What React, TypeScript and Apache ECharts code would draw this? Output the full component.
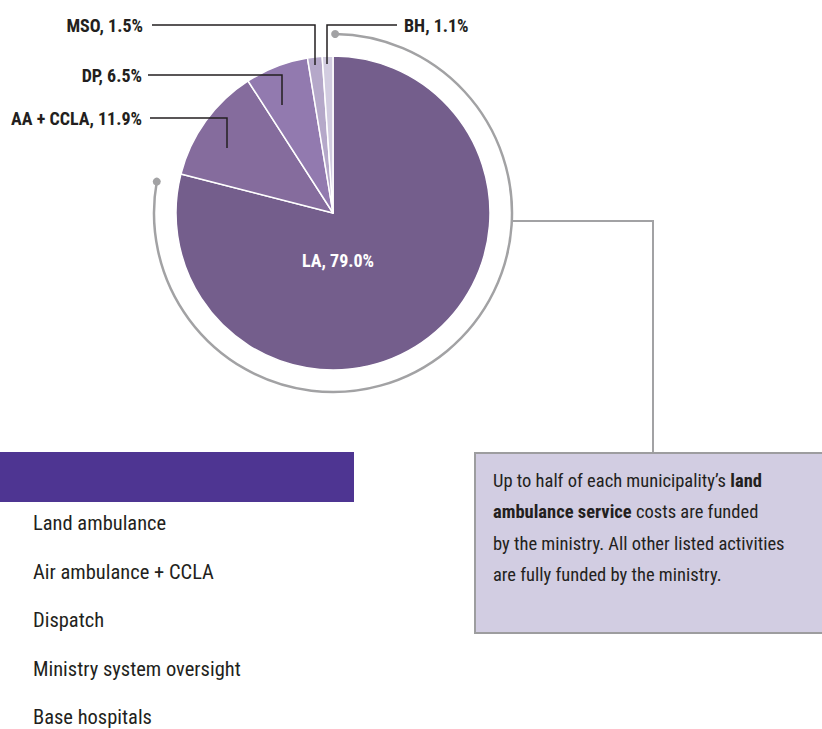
import React, { useEffect, useRef } from "react";
import * as echarts from "echarts";

const categories = ["Land ambulance", "Air ambulance + CCLA", "Dispatch", "Ministry system oversight", "Base hospitals"];
const abbreviations = ["LA", "AA + CCLA", "DP", "MSO", "BH"];
const shares = [79.0, 11.9, 6.5, 1.5, 1.1];
const sliceColors = ["#745e8c", "#856c9d", "#927aaf", "#b5a8c9", "#d2cce0"];
const noteLines = [
  "Up to half of each municipality’s {b|land}",
  "{b|ambulance service} costs are funded",
  "by the ministry. All other listed activities",
  "are fully funded by the ministry.",
];

const FONT = "'Roboto Condensed', 'DejaVu Sans Condensed', sans-serif";

export default function App() {
  const ref = useRef<HTMLDivElement>(null);
  useEffect(() => {
    if (!ref.current) return;
    const chart = echarts.init(ref.current, null, { renderer: "svg" });
    const cx = 333, cy = 213, R = 157, arcR = 179;
    const total = shares.reduce((a, b) => a + b, 0);
    const laEnd = -Math.PI / 2 + (2 * Math.PI * shares[0]) / total;
    const arcStart = -Math.PI / 2 + 0.012;
    const arcEnd = laEnd - 0.075;
    const connAngle = 0.045;
    const connX = cx + arcR * Math.cos(connAngle);
    const connY = cy + arcR * Math.sin(connAngle);

    // label placements: [labelX, labelY, align, elbowX, lineY, endY, lineStartX]
    const placements: any[] = [
      null,
      [142, 118, "right", 227, 118, 148, 150],
      [142, 75, "right", 282, 75, 105, 148],
      [143, 25, "right", 315, 25, 65, 152],
      [404, 25, "left", 327, 25, 64, 397],
    ];

    const leaders = placements
      .filter((pl) => pl)
      .map((pl) => ({
        type: "polyline",
        silent: true,
        z: 100,
        shape: { points: [[pl[6], pl[4]], [pl[3], pl[4]], [pl[3], pl[5]]] },
        style: { stroke: "#231f20", lineWidth: 1.5, fill: "none" },
      }));

    chart.setOption({
      animation: false,
      legend: {
        orient: "vertical",
        left: 22,
        top: 506,
        height: 240,
        itemWidth: 0,
        itemHeight: 0,
        itemGap: 24.5,
        selectedMode: false,
        data: categories,
        textStyle: { fontFamily: FONT, fontSize: 20.5, color: "#231f20", lineHeight: 24 },
      },
      series: [
        {
          type: "pie",
          center: [cx, cy],
          radius: R,
          startAngle: 90,
          clockwise: true,
          avoidLabelOverlap: false,
          itemStyle: { borderColor: "#fff", borderWidth: 1.5 },
          emphasis: { disabled: true },
          label: {
            show: true,
            position: "outside",
            fontFamily: FONT,
            fontWeight: "bold",
            fontSize: 18,
            color: "#231f20",
            formatter: (p: any) => `${abbreviations[p.dataIndex]}, ${shares[p.dataIndex].toFixed(1)}%`,
          },
          labelLine: { show: false },
          labelLayout: (p: any) => {
            const pl = placements[p.dataIndex];
            if (!pl) return { x: 338, y: 260, align: "center", verticalAlign: "middle" };
            return { x: pl[0], y: pl[1], align: pl[2], verticalAlign: "middle" };
          },
          data: categories.map((name, i) => ({
            name,
            value: shares[i],
            itemStyle: { color: sliceColors[i] },
            ...(i === 0 ? { label: { position: "inside", color: "#fff", fontSize: 18 } } : {}),
          })),
        },
      ],
      graphic: [
        ...leaders,
        {
          type: "arc",
          shape: { cx, cy, r: arcR, startAngle: arcStart, endAngle: arcEnd, clockwise: true },
          style: { stroke: "#a2a2a4", lineWidth: 2.5, fill: "none" },
          silent: true,
        },
        {
          type: "circle",
          shape: { cx: cx + arcR * Math.cos(arcStart), cy: cy + arcR * Math.sin(arcStart), r: 4 },
          style: { fill: "#a2a2a4" },
        },
        {
          type: "circle",
          shape: { cx: cx + arcR * Math.cos(arcEnd), cy: cy + arcR * Math.sin(arcEnd), r: 4 },
          style: { fill: "#a2a2a4" },
        },
        {
          type: "polyline",
          shape: { points: [[connX, connY], [653, connY], [653, 453]] },
          style: { stroke: "#a2a2a4", lineWidth: 2, fill: "none" },
        },
        {
          type: "rect",
          shape: { x: 475, y: 453, width: 352, height: 180 },
          style: { fill: "#d2cde2", stroke: "#9d9d9f", lineWidth: 2 },
        },
        {
          type: "text",
          x: 493,
          y: 465,
          style: {
            text: noteLines.join("\n"),
            fontFamily: FONT,
            fontSize: 18.5,
            lineHeight: 31.5,
            fill: "#231f20",
            rich: {
              b: { fontFamily: FONT, fontSize: 18.5, fontWeight: "bold", lineHeight: 31.5, fill: "#231f20" },
            },
          },
        },
        {
          type: "rect",
          shape: { x: 0, y: 452, width: 354, height: 50 },
          style: { fill: "#4e3592" },
        },
      ],
    });
    return () => chart.dispose();
  }, []);
  return (
    <div
      ref={ref}
      style={{ position: "fixed", left: 0, top: 0, width: 822, height: 729, background: "#fff" }}
    />
  );
}
